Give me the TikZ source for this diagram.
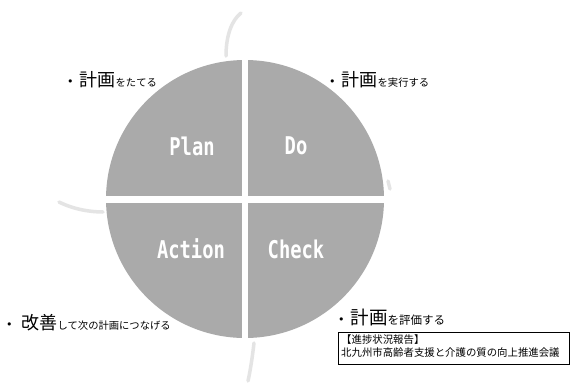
\documentclass[tikz,border=0pt]{standalone}
\usepackage{fontspec}
\newfontfamily\jp{Noto Sans CJK JP}
\newfontfamily\mono{DejaVu Sans Mono}
\newfontfamily\dv{DejaVu Sans}
\usepackage{graphicx}
\definecolor{circ}{RGB}{170,170,170}
\definecolor{faint}{RGB}{228,228,228}
\tikzset{
  quad/.style={font=\mono\bfseries\fontsize{18.8}{19}\selectfont, text=white, inner sep=0pt},
  bul/.style={font=\jp, anchor=base west, inner sep=0pt},
  stub/.style={draw=faint, line width=3.5pt, line cap=round},
}
\newcommand{\bigt}[1]{{\fontsize{18}{18}\selectfont #1}}
\newcommand{\smt}[1]{{\fontsize{10.3}{10.3}\selectfont #1}}
\newcommand{\dotb}{{\dv\fontsize{11}{11}\selectfont \raisebox{1pt}{•}}\hspace{6pt}}
\begin{document}
\begin{tikzpicture}[x=1pt,y=-1pt]
\useasboundingbox[fill=white] (0,0) rectangle (570,383);
% faint stubs
\draw[stub] (226,56) .. controls (226,35) and (232,20) .. (241,13);
\draw[stub] (59,202) .. controls (75,210) and (92,212) .. (103,212);
\draw[stub] (388,181) -- (390,189);
\draw[stub] (254,343) .. controls (252,360) and (250,372) .. (248,381);
% circle
\fill[circ] (245,199) circle (139);
\fill[white] (242,55) rectangle (248,345);
\fill[white] (100,195.5) rectangle (390,202.5);
% labels
\node[quad] (plan) at (192,146) {\scalebox{1}[1.3]{Plan}};
\node[quad] (do) at (296,146) {\scalebox{1}[1.3]{Do}};
\node[quad] (act) at (191,249) {\scalebox{1}[1.3]{Action}};
\node[quad] (chk) at (296,249) {\scalebox{1}[1.3]{Check}};
% bullet texts
\node[bul] (t1) at (67,86) {\dotb\bigt{計画}\smt{をたてる}};
\node[bul] (t2) at (329,86) {\dotb\bigt{計画}\smt{を実行する}};
\node[bul] (t3) at (6,329) {\dotb\hspace{3pt}\bigt{改善}\smt{して次の計画につなげる}};
\node[bul] (t4) at (338,324) {\dotb{\fontsize{18.5}{18.5}\selectfont 計画}{\fontsize{11.5}{11.5}\selectfont を評価する}};
% box
\draw[line width=0.8pt] (338,332) rectangle (569.5,364);
\node[font=\jp\fontsize{10.4}{12.5}\selectfont, anchor=north west, align=left, inner sep=0pt] (box) at (341,334.5) {【進捗状況報告】\\北九州市高齢者支援と介護の質の向上推進会議};
\end{tikzpicture}
\end{document}
